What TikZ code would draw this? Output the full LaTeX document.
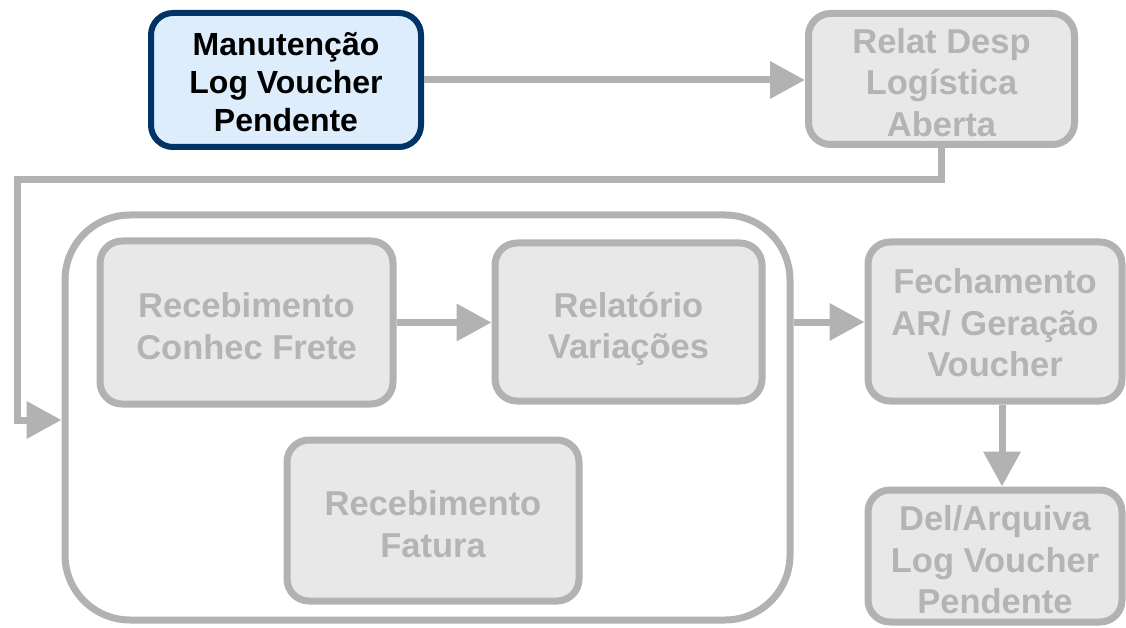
\documentclass[tikz,border=0pt]{standalone}
\usepackage{fontspec}
\setmainfont{Liberation Sans}
\usetikzlibrary{arrows.meta}
\definecolor{navy}{RGB}{0,51,102}
\definecolor{lblue}{RGB}{222,237,252}
\definecolor{gline}{RGB}{178,178,178}
\definecolor{gfill}{RGB}{232,232,232}
\definecolor{gtext}{RGB}{180,180,180}
\begin{document}
\begin{tikzpicture}[x=1pt,y=-1pt,
 activebox/.style={draw=navy, line width=6pt, fill=lblue, rounded corners=22pt, align=center, font=\fontsize{32}{38}\selectfont\bfseries, text=black, inner sep=0pt, text height=104pt, text depth=0pt},
 greybox/.style={draw=gline, line width=7pt, fill=gfill, rounded corners=22pt, align=center, font=\fontsize{34.5}{41.5}\selectfont\bfseries, text=gtext, inner sep=0pt, text depth=0pt},
 threeline/.style={text height=115pt},
 twoline/.style={text height=73.5pt},
 groupbox/.style={draw=gline, line width=7pt, rounded corners=65pt, inner sep=0pt},
 conn/.style={draw=gline, line width=7pt, -{Triangle[length=35pt,width=36pt]}},
]
\useasboundingbox (0,0) rectangle (1126,628);
\node[activebox, minimum width=270pt, minimum height=134pt] (man) at (286,80) {Manutenção\\Log Voucher\\Pendente};
\node[greybox, threeline, minimum width=266pt, minimum height=131pt] (rel) at (941.5,79) {Relat Desp\\Logística\\Aberta};
\node[groupbox, minimum width=725pt, minimum height=405pt] (grp) at (427.5,417.5) {};
\node[greybox, twoline, minimum width=293pt, minimum height=163pt] (rcf) at (246.5,322.5) {Recebimento\\Conhec Frete};
\node[greybox, twoline, minimum width=267pt, minimum height=158pt] (rv) at (628.5,322) {Relatório\\Variações};
\node[greybox, twoline, minimum width=292pt, minimum height=161pt] (rf) at (433,520.5) {Recebimento\\Fatura};
\node[greybox, threeline, text height=110pt, minimum width=254pt, minimum height=159pt] (fech) at (995,321.5) {Fechamento\\AR/ Geração\\Voucher};
\node[greybox, threeline, minimum width=254pt, minimum height=132pt] (del) at (995,556) {Del/Arquiva\\Log Voucher\\Pendente};
\coordinate (e1) at (17,180);
\coordinate (e2) at (17,420);
\draw[conn] (man.east) -- (man.east -| rel.west);
\draw[conn] (rel.south) |- (e1) -- (e2) -- (e2 -| grp.west);
\draw[conn] (rcf.east) -- (rcf.east -| rv.west);
\draw[conn] (rv.east -| grp.east) -- (rv.east -| fech.west);
\draw[conn] ([xshift=7pt]fech.south) -- ([xshift=7pt]del.north);
\end{tikzpicture}
\end{document}
